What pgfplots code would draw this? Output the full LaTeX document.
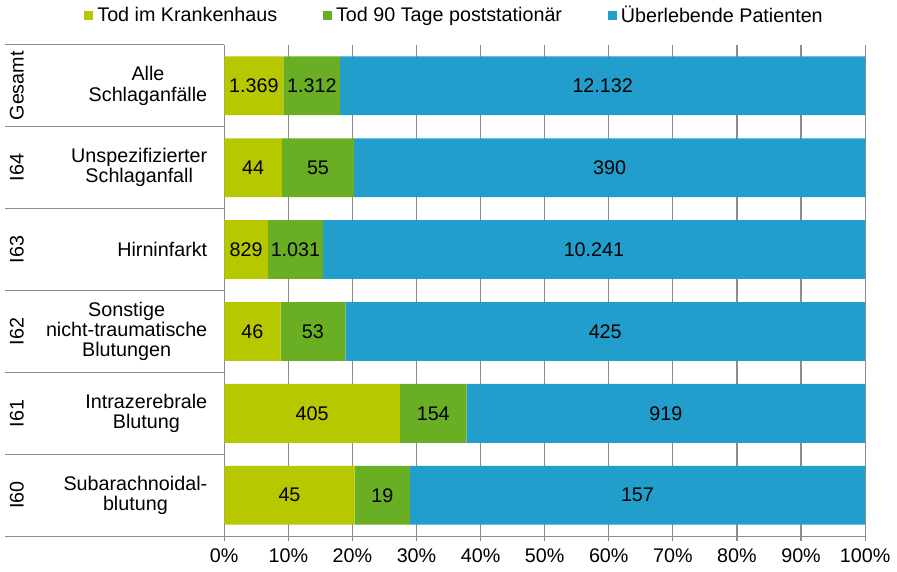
\documentclass[border=0pt]{standalone}
\usepackage{fontspec}
\setmainfont{Liberation Sans}
\usepackage{pgfplots}
\usepackage{pgfplotstable}
\pgfplotsset{compat=1.18}

\definecolor{cA}{RGB}{184,200,0}
\definecolor{cB}{RGB}{106,174,36}
\definecolor{cC}{RGB}{33,158,203}
\definecolor{linec}{RGB}{140,140,140}
\newcommand\cf{\fontsize{9.9}{10.2}\selectfont}

% shares in percent of each row, labels = case counts
\pgfplotstableread{
y pct lab
5 9.24 1.369
4 9.00 44
3 6.85 829
2 8.78 46
1 27.40 405
0 20.36 45
}\tabA
\pgfplotstableread{
y pct lab
5 8.86 1.312
4 11.25 55
3 8.52 1.031
2 10.11 53
1 10.42 154
0 8.60 19
}\tabB
\pgfplotstableread{
y pct lab
5 81.90 12.132
4 79.75 390
3 84.63 10.241
2 81.11 425
1 62.18 919
0 71.04 157
}\tabC

\begin{document}
\begin{tikzpicture}
\begin{axis}[
    name=ax,
    xbar stacked,
    bar width=29.5pt,
    scale only axis,
    width=321.5pt,
    height=246.5pt,
    xmin=0, xmax=100,
    ymin=-0.5, ymax=5.5,
    axis x line*=bottom,
    axis y line*=left,
    axis line style={linec, line width=0.6pt},
    xtick={0,10,...,100},
    xticklabels={0\%,10\%,20\%,30\%,40\%,50\%,60\%,70\%,80\%,90\%,100\%},
    xtick align=outside,
    major tick length=2.5pt,
    xtick style={linec, line width=0.6pt},
    xmajorgrids,
    major grid style={linec, line width=0.6pt},
    ytick={0,...,5},
    yticklabels={{Subarachnoidal-\\blutung},{Intrazerebrale\\Blutung},{Sonstige\\nicht-traumatische\\Blutungen},{Hirninfarkt},{Unspezifizierter\\Schlaganfall},{Alle\\Schlaganfälle}},
    ytick style={draw=none},
    ytick align=inside,
    yticklabel style={align=center, anchor=east, xshift=-5pt},
    tick label style={font=\cf},
    point meta=explicit symbolic,
    nodes near coords,
    every node near coord/.append style={anchor=center, font=\cf, text=black},
    legend columns=3,
    legend style={at={(0.361,1)}, anchor=center, yshift=14.5pt, draw=none,
        font=\cf, inner sep=0pt,
        /tikz/every even column/.append style={column sep=21pt}},
    legend image code/.code={\fill[#1] (0pt,-2.25pt) rectangle (4.5pt,2.25pt);},
    clip=false,
]
\addplot[fill=cA, draw=none] table[x=pct, y=y, meta=lab] {\tabA};
\addplot[fill=cB, draw=none] table[x=pct, y=y, meta=lab] {\tabB};
\addplot[fill=cC, draw=none] table[x=pct, y=y, meta=lab] {\tabC};
\legend{Tod im Krankenhaus, Tod 90 Tage poststationär, Überlebende Patienten}

\pgfplotsinvokeforeach{-0.5,0.5,1.5,2.5,3.5,4.5,5.5}{
  \draw[linec, line width=0.6pt] ([xshift=-110pt]axis cs:0,#1) -- (axis cs:0,#1);
}
\node[rotate=90, font=\cf] at ([xshift=-104pt]axis cs:0,5) {Gesamt};
\node[rotate=90, font=\cf] at ([xshift=-104pt]axis cs:0,4) {I64};
\node[rotate=90, font=\cf] at ([xshift=-104pt]axis cs:0,3) {I63};
\node[rotate=90, font=\cf] at ([xshift=-104pt]axis cs:0,2) {I62};
\node[rotate=90, font=\cf] at ([xshift=-104pt]axis cs:0,1) {I61};
\node[rotate=90, font=\cf] at ([xshift=-104pt]axis cs:0,0) {I60};
\end{axis}
\path ([xshift=-112.5pt,yshift=-17.5pt]ax.south west) rectangle ([xshift=336pt,yshift=269pt]ax.south west);
\end{tikzpicture}
\end{document}
